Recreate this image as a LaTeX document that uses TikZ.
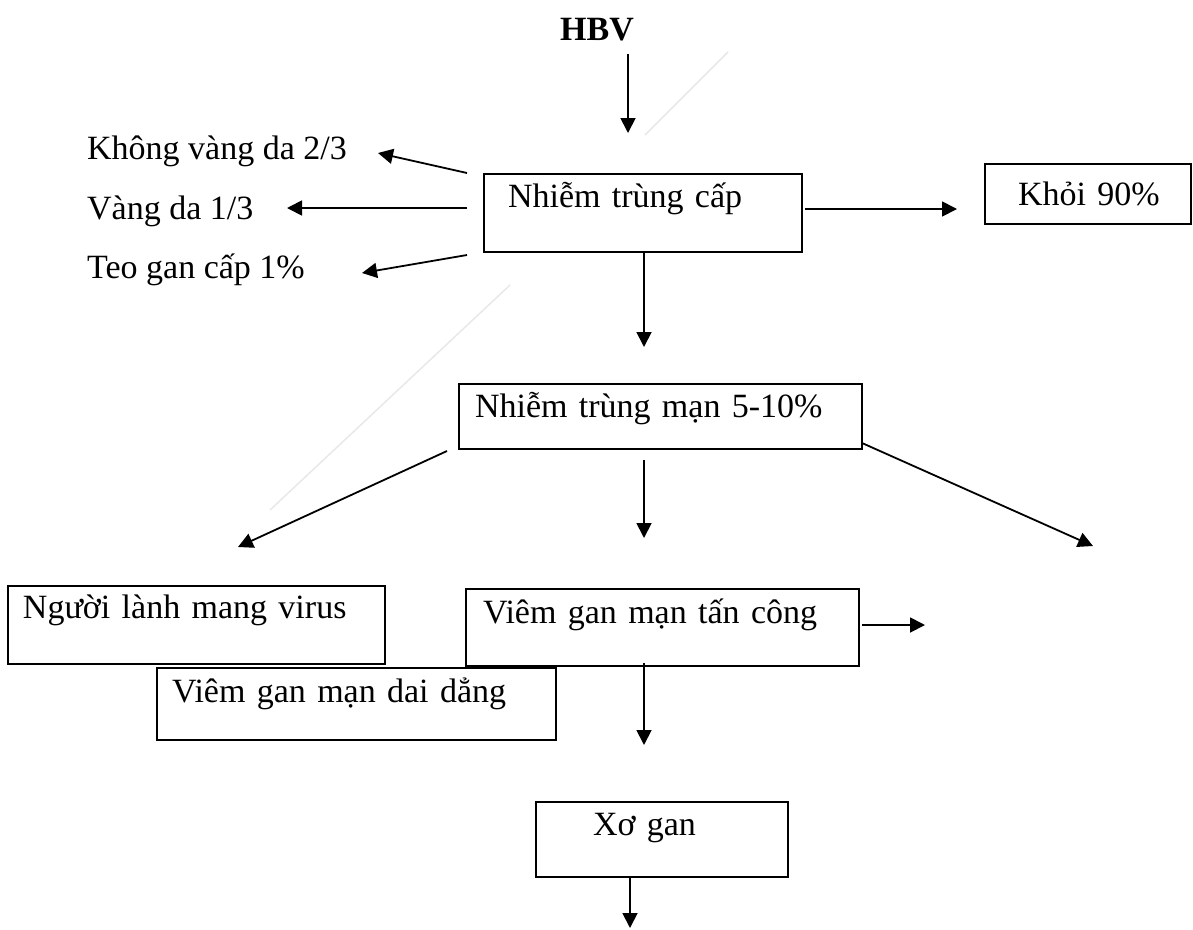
\documentclass[tikz,border=0pt]{standalone}
\usepackage{fontspec}
\setmainfont{Liberation Serif}
\usetikzlibrary{arrows.meta}
\tikzset{
  box/.style={draw, line width=2.5pt, inner ysep=0pt, outer sep=0pt, anchor=north west, align=left, font=\fontsize{34}{40}\selectfont},
  lbl/.style={inner sep=0pt, anchor=base west, font=\fontsize{34}{40}\selectfont},
  arr/.style={line width=1.8pt, -{Triangle[length=15pt,width=15pt]}},
  faint/.style={line width=1.5pt, gray!18}
}
\begin{document}
\begin{tikzpicture}[x=1pt,y=-1pt]
\useasboundingbox (0,0) rectangle (1193,929);
% faint artefact lines
\draw[faint] (645,135) -- (728,52);
\draw[faint] (510,285) -- (270,510);
% title
\node[inner sep=0pt, anchor=base, font=\fontsize{34}{40}\selectfont\bfseries] (hbv) at (597,40) {HBV};
% boxes
\node[box, inner xsep=24pt, text width=270pt, text height=33pt, text depth=45pt] (acute) at (484,174) {Nhiễm trùng cấp};
\node[box, inner xsep=8pt, text width=190pt, text height=41pt, text depth=19pt] (cured) at (985,164) {\hspace*{25pt}Khỏi 90\%};
\node[box, inner xsep=16pt, text width=371pt, text height=33pt, text depth=32pt] (chronic) at (459,384) {Nhiễm trùng mạn 5-10\%};
\node[box, inner xsep=15pt, text width=347pt, text height=32pt, text depth=46pt] (carrier) at (8,586) {Người lành mang virus};
\node[box, inner xsep=17pt, text width=359pt, text height=34pt, text depth=43pt] (active) at (466,589) {Viêm gan mạn tấn công};
\node[box, inner xsep=15pt, text width=369pt, text height=34pt, text depth=38pt] (persist) at (157,668) {Viêm gan mạn dai dẳng};
\node[box, inner xsep=57pt, text width=138pt, text height=33pt, text depth=42pt] (cirr) at (536,802) {Xơ gan};
% left labels
\node[lbl] (nojaund) at (87,159) {Không vàng da 2/3};
\node[lbl] (jaund) at (87,219) {Vàng da 1/3};
\node[lbl] (fulm) at (87,278) {Teo gan cấp 1\%};
% arrow end points
\coordinate (h1) at (628,54);   \coordinate (h2) at (628,133);
\coordinate (a1) at (805,209);  \coordinate (a2) at (957,209);
\coordinate (b1) at (467,173);  \coordinate (b2) at (378,153);
\coordinate (c1) at (467,208);  \coordinate (c2) at (287,208);
\coordinate (d1) at (467,255);  \coordinate (d2) at (362,273);
\coordinate (e1) at (644,253);  \coordinate (e2) at (644,347);
\coordinate (f1) at (447,451);  \coordinate (f2) at (238,547);
\coordinate (g1) at (644,460);  \coordinate (g2) at (644,538);
\coordinate (k1) at (862,443);  \coordinate (k2) at (1093,546);
\coordinate (m1) at (862,625);  \coordinate (m2) at (925,625);
\coordinate (n1) at (644,663);  \coordinate (n2) at (644,745);
\coordinate (p1) at (630,877);  \coordinate (p2) at (630,928);
% arrows
\draw[arr] (h1) -- (h2);
\draw[arr] (a1) -- (a2);
\draw[arr] (b1) -- (b2);
\draw[arr] (c1) -- (c2);
\draw[arr] (d1) -- (d2);
\draw[arr] (e1) -- (e2);
\draw[arr] (f1) -- (f2);
\draw[arr] (g1) -- (g2);
\draw[arr] (k1) -- (k2);
\draw[arr] (m1) -- (m2);
\draw[arr] (n1) -- (n2);
\draw[arr] (p1) -- (p2);
\end{tikzpicture}
\end{document}
